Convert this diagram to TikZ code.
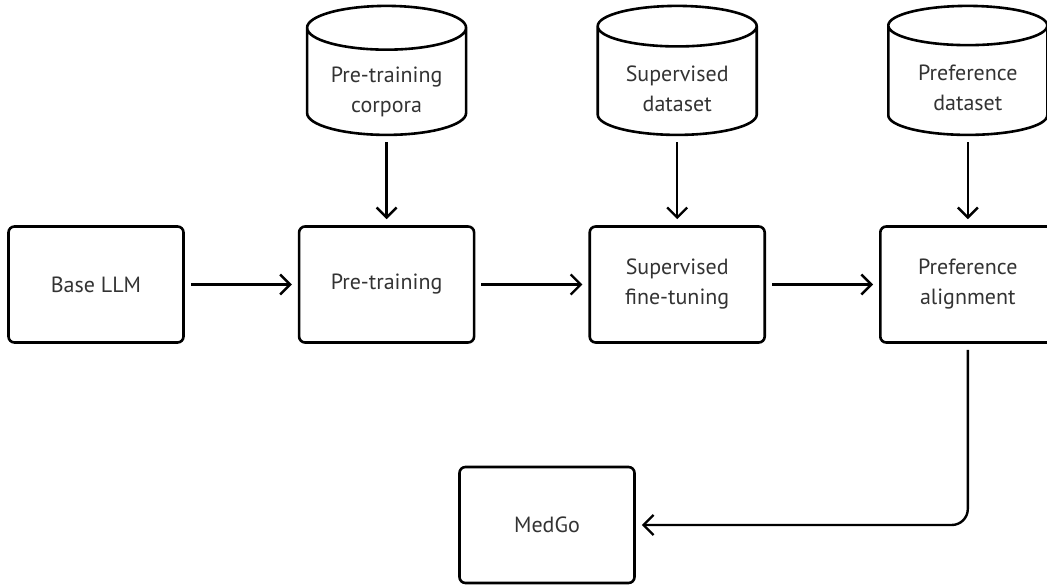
\documentclass[tikz,border=0pt]{standalone}
\usepackage{fontspec}
\setmainfont{PT Sans}
\usetikzlibrary{shapes.geometric, arrows.meta, positioning}
\newcommand{\dbtext}[1]{\raisebox{-6pt}[\height][\depth]{\begin{tabular}{@{}c@{}}#1\end{tabular}}}

\begin{document}
\begin{tikzpicture}[x=1pt, y=1pt,
			every node/.style={font=\fontsize{22}{30}\selectfont, text=black!80, align=center},
			stage/.style={draw=black, rectangle, rounded corners=6pt, line width=2.6pt, minimum width=175pt, minimum height=116pt},
			data/.style={draw=black, cylinder, shape border rotate=90, aspect=0.37, line width=2.6pt, minimum width=159pt, minimum height=129pt},
			flow/.style={-{Straight Barb[length=10pt, width=20pt]}, line width=2.4pt, shorten <=6pt, shorten >=6pt}
		]
			\useasboundingbox (0,0) rectangle (1047,584);

			\node (base) [stage] at (96,299.5) {Base LLM};
			\node (pre) [stage, right=113pt of base] {Pre-training};
			\node (sft) [stage, right=113pt of pre] {Supervised\\fine-tuning};
			\node (pref) [stage, right=113pt of sft] {Preference\\alignment};
			\node (medgo) [stage] at (547,59) {MedGo};

			\node (corpora) [data, above=89pt of pre] {\dbtext{Pre-training\\corpora}};
			\node (sftdata) [data, above=89pt of sft] {\dbtext{Supervised\\dataset}};
			\node (prefdata) [data, above=89pt of pref] {\dbtext{Preference\\dataset}};

			\draw [flow] (base) -- (pre);
			\draw [flow] (pre) -- (sft);
			\draw [flow] (sft) -- (pref);
			\draw [flow] (corpora) -- (pre);
			\draw [flow] (sftdata) -- (sft);
			\draw [flow] (prefdata) -- (pref);
			\draw [flow, rounded corners=16pt] (pref.south) |- (medgo.east);
		\end{tikzpicture}
\end{document}
